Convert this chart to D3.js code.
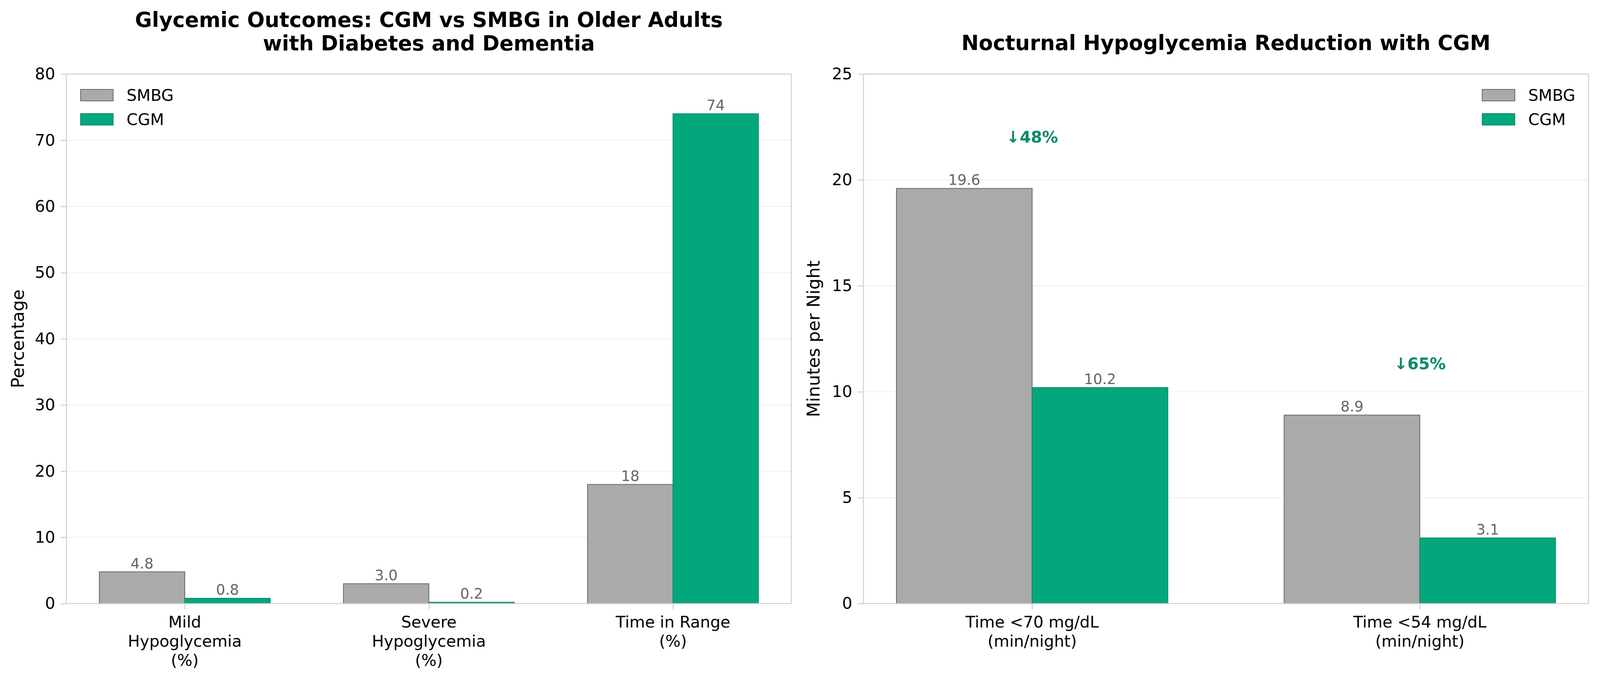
<!DOCTYPE html>
<html>
<head>
<meta charset="utf-8">
<script src="https://cdn.jsdelivr.net/npm/d3@7"></script>
<style>
  html, body { margin: 0; padding: 0; background: #ffffff; overflow: hidden; }
  #chart { width: 100vw; }
  svg { display: block; width: 100%; height: auto; }
</style>
</head>
<body>
<div id="chart"></div>
<script>
// Two grouped bar panels: glycemic outcomes and nocturnal hypoglycemia, SMBG vs CGM

const seriesNames = ["SMBG", "CGM"];

const leftCategories = [
  ["Mild", "Hypoglycemia", "(%)"],
  ["Severe", "Hypoglycemia", "(%)"],
  ["Time in Range", "(%)"]
];
const leftSmbg = [4.8, 3.0, 18];
const leftCgm = [0.8, 0.2, 74];
const leftDecimals = [1, 1, 0];
const leftTicks = [0, 10, 20, 30, 40, 50, 60, 70, 80];

const rightCategories = [
  ["Time <70 mg/dL", "(min/night)"],
  ["Time <54 mg/dL", "(min/night)"]
];
const rightSmbg = [19.6, 8.9];
const rightCgm = [10.2, 3.1];
const rightDecimals = [1, 1];
const rightTicks = [0, 5, 10, 15, 20, 25];

const W = 4171;
const H = 1771;
const font = '"DejaVu Sans", "Liberation Sans", sans-serif';

const colors = {
  smbgFill: "#aaaaaa",
  smbgEdge: "#666666",
  cgmFill: "#03a77c",
  cgmEdge: "#038a66",
  note: "#078a6b",
  spine: "#d0d0d0",
  grid: "#eeeeee",
  value: "#666666"
};

// viewBox with width-driven scaling so the drawing keeps its proportions
const svg = d3.select("#chart")
  .append("svg")
  .attr("viewBox", [0, 0, W, H])
  .attr("preserveAspectRatio", "xMidYMin meet");

svg.append("rect").attr("width", W).attr("height", H).attr("fill", "#ffffff");

function drawPanel(opts) {
  const g = svg.append("g");
  const n = opts.categories.length;
  const barW = 0.35;
  const pad = (n - 1 + 2 * barW) * 0.05;

  const x = d3.scaleLinear()
    .domain([-barW - pad, n - 1 + barW + pad])
    .range([opts.left, opts.right]);
  const y = d3.scaleLinear()
    .domain([0, opts.ticks[opts.ticks.length - 1]])
    .range([opts.bottom, opts.top]);

  // grid
  g.append("g")
    .selectAll("line")
    .data(opts.ticks)
    .join("line")
    .attr("x1", opts.left)
    .attr("x2", opts.right)
    .attr("y1", function(d) { return y(d); })
    .attr("y2", function(d) { return y(d); })
    .attr("stroke", colors.grid)
    .attr("stroke-width", 2);

  // y axis
  const yAxis = g.append("g")
    .attr("transform", "translate(" + opts.left + ",0)")
    .call(d3.axisLeft(y).tickValues(opts.ticks).tickSize(14.6).tickPadding(14.6));
  yAxis.select(".domain").remove();
  yAxis.selectAll(".tick line").attr("stroke", colors.spine).attr("stroke-width", 2.5);
  yAxis.selectAll(".tick text")
    .attr("font-family", font)
    .attr("font-size", 41.7)
    .attr("fill", "#000000");

  // x axis
  const xAxis = g.append("g")
    .attr("transform", "translate(0," + opts.bottom + ")")
    .call(d3.axisBottom(x).tickValues(d3.range(n)).tickSize(14.6).tickFormat(""));
  xAxis.select(".domain").remove();
  xAxis.selectAll(".tick line").attr("stroke", colors.spine).attr("stroke-width", 2.5);

  opts.categories.forEach(function(lines, i) {
    const t = g.append("text")
      .attr("x", x(i))
      .attr("y", opts.bottom + 62)
      .attr("text-anchor", "middle")
      .attr("font-family", font)
      .attr("font-size", 41.7)
      .attr("fill", "#000000");
    lines.forEach(function(line, j) {
      t.append("tspan")
        .attr("x", x(i))
        .attr("dy", j === 0 ? 0 : 50)
        .text(line);
    });
  });

  // bars
  const series = [
    { values: opts.smbg, fill: colors.smbgFill, edge: colors.smbgEdge, offset: -barW / 2 },
    { values: opts.cgm, fill: colors.cgmFill, edge: colors.cgmEdge, offset: barW / 2 }
  ];

  series.forEach(function(s) {
    g.append("g")
      .selectAll("rect")
      .data(s.values)
      .join("rect")
      .attr("x", function(d, i) { return x(i + s.offset - barW / 2); })
      .attr("width", x(barW) - x(0))
      .attr("y", function(d) { return y(d); })
      .attr("height", function(d) { return y(0) - y(d); })
      .attr("fill", s.fill)
      .attr("stroke", s.edge)
      .attr("stroke-width", 2);

    g.append("g")
      .selectAll("text")
      .data(s.values)
      .join("text")
      .attr("x", function(d, i) { return x(i + s.offset); })
      .attr("y", function(d) { return y(d) - 9; })
      .attr("text-anchor", "middle")
      .attr("font-family", font)
      .attr("font-size", 37.5)
      .attr("fill", colors.value)
      .text(function(d, i) { return d.toFixed(opts.decimals[i]); });
  });

  // spines
  g.append("rect")
    .attr("x", opts.left)
    .attr("y", opts.top)
    .attr("width", opts.right - opts.left)
    .attr("height", opts.bottom - opts.top)
    .attr("fill", "none")
    .attr("stroke", colors.spine)
    .attr("stroke-width", 2.5);

  // y label
  g.append("text")
    .attr("transform", "translate(" + opts.yLabelX + "," + ((opts.top + opts.bottom) / 2) + ") rotate(-90)")
    .attr("text-anchor", "middle")
    .attr("font-family", font)
    .attr("font-size", 45.8)
    .attr("fill", "#000000")
    .text(opts.yLabel);

  // title
  const title = g.append("text")
    .attr("x", (opts.left + opts.right) / 2)
    .attr("y", opts.titleY)
    .attr("text-anchor", "middle")
    .attr("font-family", font)
    .attr("font-size", 54)
    .attr("font-weight", "bold")
    .attr("fill", "#000000");
  opts.title.forEach(function(line, j) {
    title.append("tspan")
      .attr("x", (opts.left + opts.right) / 2)
      .attr("dy", j === 0 ? 0 : 61)
      .text(line);
  });

  // legend
  const legend = g.append("g");
  seriesNames.forEach(function(name, i) {
    const s = series[i];
    const rowY = opts.top + 40 + i * 63;
    legend.append("rect")
      .attr("x", opts.legendX)
      .attr("y", rowY)
      .attr("width", 85)
      .attr("height", 30)
      .attr("fill", s.fill)
      .attr("stroke", s.edge)
      .attr("stroke-width", 2);
    legend.append("text")
      .attr("x", opts.legendX + 120)
      .attr("y", rowY + 30)
      .attr("font-family", font)
      .attr("font-size", 41.7)
      .attr("fill", "#000000")
      .text(name);
  });

  if (opts.notes) {
    opts.smbg.forEach(function(v, i) {
      const drop = Math.round((v - opts.cgm[i]) / v * 100);
      g.append("text")
        .attr("x", x(i))
        .attr("y", y(v + 2) - 9)
        .attr("text-anchor", "middle")
        .attr("font-family", font)
        .attr("font-size", 41.7)
        .attr("font-weight", "bold")
        .attr("fill", colors.note)
        .text("\u2193" + drop + "%");
    });
  }
}

drawPanel({
  left: 173, right: 2063, top: 193, bottom: 1573,
  categories: leftCategories,
  smbg: leftSmbg, cgm: leftCgm, decimals: leftDecimals,
  ticks: leftTicks,
  yLabel: "Percentage", yLabelX: 62,
  title: ["Glycemic Outcomes: CGM vs SMBG in Older Adults", "with Diabetes and Dementia"],
  titleY: 70,
  legendX: 210,
  notes: false
});

drawPanel({
  left: 2251, right: 4141, top: 193, bottom: 1573,
  categories: rightCategories,
  smbg: rightSmbg, cgm: rightCgm, decimals: rightDecimals,
  ticks: rightTicks,
  yLabel: "Minutes per Night", yLabelX: 2136,
  title: ["Nocturnal Hypoglycemia Reduction with CGM"],
  titleY: 130,
  legendX: 3864,
  notes: true
});
</script>
</body>
</html>
